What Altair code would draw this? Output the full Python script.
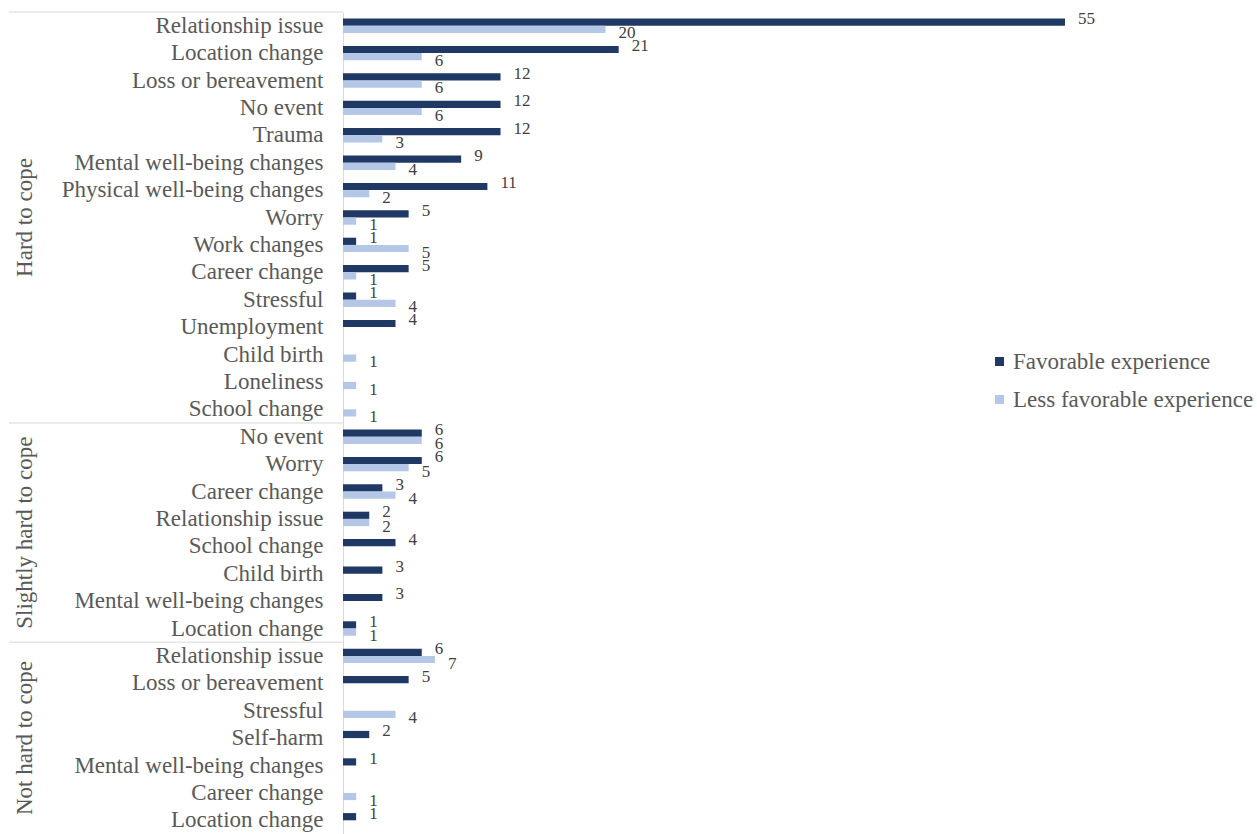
import altair as alt
import pandas as pd

FAV = "Favorable experience"
LESS = "Less favorable experience"

groups = ["Hard to cope", "Slightly hard to cope", "Not hard to cope"]

hard_events = ["Relationship issue", "Location change", "Loss or bereavement", "No event",
               "Trauma", "Mental well-being changes", "Physical well-being changes", "Worry",
               "Work changes", "Career change", "Stressful", "Unemployment", "Child birth",
               "Loneliness", "School change"]
hard_fav = [55, 21, 12, 12, 12, 9, 11, 5, 1, 5, 1, 4, None, None, None]
hard_less = [20, 6, 6, 6, 3, 4, 2, 1, 5, 1, 4, None, 1, 1, 1]

slight_events = ["No event", "Worry", "Career change", "Relationship issue", "School change",
                 "Child birth", "Mental well-being changes", "Location change"]
slight_fav = [6, 6, 3, 2, 4, 3, 3, 1]
slight_less = [6, 5, 4, 2, None, None, None, 1]

not_events = ["Relationship issue", "Loss or bereavement", "Stressful", "Self-harm",
              "Mental well-being changes", "Career change", "Location change"]
not_fav = [6, 5, None, 2, 1, None, 1]
not_less = [7, None, 4, None, None, 1, None]

group_data = [
    (hard_events, hard_fav, hard_less),
    (slight_events, slight_fav, slight_less),
    (not_events, not_fav, not_less),
]

FONT = "Liberation Serif"
DARK = "#203864"
LIGHT = "#B4C7E7"
GRID = "#D9D9D9"

# one unique key per row so repeated event names stay separate
keys = []
bars = []
first_keys = []
group_mid = []
for gi, (events, fav, less) in enumerate(group_data):
    gkeys = []
    for ri, ev in enumerate(events):
        k = f"{gi}{ri:02d}|{ev}"
        gkeys.append(k)
        if fav[ri] is not None:
            bars.append({"key": k, "series": FAV, "value": fav[ri]})
        if less[ri] is not None:
            bars.append({"key": k, "series": LESS, "value": less[ri]})
    keys.extend(gkeys)
    first_keys.append(gkeys[0])
    n = len(gkeys)
    # odd count: centre of middle row; even count: boundary between middle rows
    group_mid.append({"key": gkeys[n // 2], "group": groups[gi], "odd": n % 2 == 1})

bars_df = pd.DataFrame(bars)
rules_df = pd.DataFrame({"key": first_keys})
mid_odd = pd.DataFrame([m for m in group_mid if m["odd"]])
mid_even = pd.DataFrame([m for m in group_mid if not m["odd"]])

y_scale = alt.Scale(paddingInner=0, paddingOuter=0)
y_enc = alt.Y(
    "key:N", sort=keys, scale=y_scale, title=None,
    axis=alt.Axis(
        labelExpr="split(datum.label, '|')[1]",
        labelFont=FONT, labelFontSize=23, labelColor="#595959",
        labelPadding=20, ticks=False, domainColor=GRID, labelLimit=400,
    ),
)
y_plain = alt.Y("key:N", sort=keys, scale=y_scale)
y_off = alt.YOffset("series:N", sort=[FAV, LESS],
                    scale=alt.Scale(paddingInner=0, paddingOuter=0.9))
x_enc = alt.X("value:Q", scale=alt.Scale(domain=[0, 55], nice=False), axis=None)

bar_layer = alt.Chart(bars_df).mark_bar().encode(
    x=x_enc,
    y=y_enc,
    yOffset=y_off,
    color=alt.Color(
        "series:N", sort=[FAV, LESS],
        scale=alt.Scale(domain=[FAV, LESS], range=[DARK, LIGHT]),
        legend=alt.Legend(
            title=None, orient="none", legendX=645, legendY=338,
            symbolType="square", symbolSize=81, symbolStrokeWidth=0,
            labelFont=FONT, labelFontSize=23, labelColor="#595959",
            labelOffset=2, rowPadding=14, labelLimit=400,
        ),
    ),
)

label_style = dict(align="left", baseline="middle", dx=13, font=FONT, fontSize=17,
                   color="#404040")
fav_labels = alt.Chart(bars_df).transform_filter(
    alt.datum.series == FAV
).mark_text(dy=-3, **label_style).encode(
    x=x_enc, y=y_plain, yOffset=y_off, text="value:Q",
)
less_labels = alt.Chart(bars_df).transform_filter(
    alt.datum.series == LESS
).mark_text(dy=4, **label_style).encode(
    x=x_enc, y=y_plain, yOffset=y_off, text="value:Q",
)

separators = alt.Chart(rules_df).mark_rule(color=GRID, strokeWidth=1).encode(
    y=alt.Y("key:N", sort=keys, scale=y_scale, bandPosition=0),
    x=alt.value(-334),
    x2=alt.value(0),
)

group_text = dict(angle=270, align="center", baseline="middle",
                  font=FONT, fontSize=23, color="#595959")
labels_odd = alt.Chart(mid_odd).mark_text(**group_text).encode(
    y=alt.Y("key:N", sort=keys, scale=y_scale, bandPosition=0.5),
    x=alt.value(-318),
    text="group:N",
)
labels_even = alt.Chart(mid_even).mark_text(**group_text).encode(
    y=alt.Y("key:N", sort=keys, scale=y_scale, bandPosition=0),
    x=alt.value(-318),
    text="group:N",
)

chart = (
    alt.layer(bar_layer, fav_labels, less_labels, separators, labels_odd, labels_even)
    .properties(
        width=722, height=822,
        autosize=alt.AutoSizeParams(type="none"),
        padding={"left": 343, "top": 12, "right": 192, "bottom": 0},
        background="white",
    )
    .configure_view(stroke="transparent")
)

chart.save("out.html", embed_options={"renderer": "svg", "actions": False})
